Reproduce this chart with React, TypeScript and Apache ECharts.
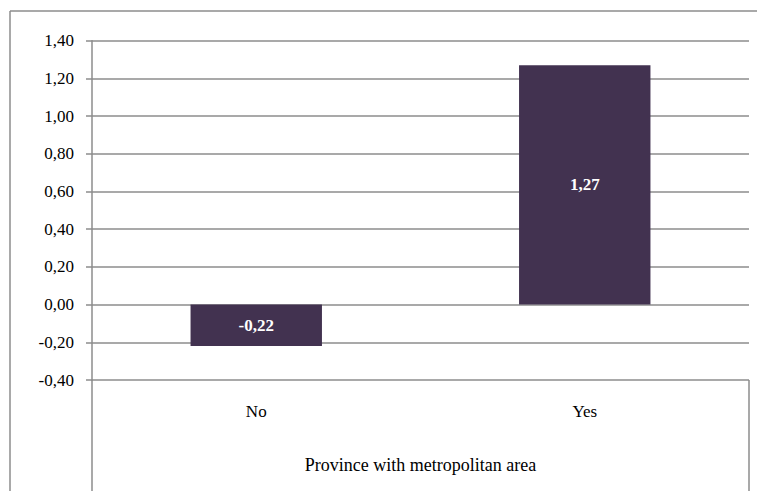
import React, { useEffect, useRef } from "react";
import * as echarts from "echarts";

const categories = ["No", "Yes"];
const values = [-0.22, 1.27];
const yTicks = { min: -0.4, max: 1.4, interval: 0.2 };
const xAxisTitle = "Province with metropolitan area";

export default function App() {
  const ref = useRef<HTMLDivElement>(null);
  useEffect(() => {
    const chart = echarts.init(ref.current!, null, { renderer: "svg" });
    const font = "'Liberation Serif', 'Times New Roman', serif";
    const gray = "#8c8c8c";
    chart.setOption({
      animation: false,
      backgroundColor: "#ffffff",
      grid: { left: 92, right: 8, top: 40.7, bottom: 111, containLabel: false },
      xAxis: {
        type: "category",
        data: categories,
        axisLine: { show: false },
        axisTick: { show: false },
        axisLabel: { color: "#000", fontFamily: font, fontSize: 17, margin: 23 },
        name: xAxisTitle,
        nameLocation: "middle",
        nameGap: 76,
        nameTextStyle: { color: "#000", fontFamily: font, fontSize: 18 },
      },
      yAxis: {
        type: "value",
        min: yTicks.min,
        max: yTicks.max,
        interval: yTicks.interval,
        axisLine: { show: true, lineStyle: { color: gray, width: 1.5 } },
        axisTick: { show: true, length: 6, lineStyle: { color: gray, width: 1.5 } },
        axisLabel: {
          color: "#000",
          fontFamily: font,
          fontSize: 17,
          margin: 18,
          formatter: (v: number) => v.toFixed(2).replace(".", ","),
        },
        splitLine: { show: true, lineStyle: { color: gray, width: 1.5 } },
      },
      series: [
        {
          type: "bar",
          data: values,
          barWidth: "40%",
          itemStyle: { color: "#423250" },
          label: {
            show: true,
            position: "inside",
            color: "#fff",
            fontFamily: font,
            fontWeight: "bold",
            fontSize: 17,
            formatter: (p: any) => p.value.toFixed(2).replace(".", ","),
          },
        },
      ],
      graphic: [
        { type: "line", shape: { x1: 10, y1: 11, x2: 757, y2: 11 }, style: { stroke: gray, lineWidth: 1.5 } },
        { type: "line", shape: { x1: 10, y1: 11, x2: 10, y2: 491 }, style: { stroke: gray, lineWidth: 1.5 } },
        { type: "line", shape: { x1: 92, y1: 380, x2: 92, y2: 491 }, style: { stroke: gray, lineWidth: 1.5 } },
        { type: "line", shape: { x1: 749, y1: 380, x2: 749, y2: 491 }, style: { stroke: gray, lineWidth: 1.5 } },
      ],
    });
    return () => chart.dispose();
  }, []);
  return (
    <div
      ref={ref}
      style={{ position: "absolute", left: 0, top: 0, width: 757, height: 491 }}
    />
  );
}
